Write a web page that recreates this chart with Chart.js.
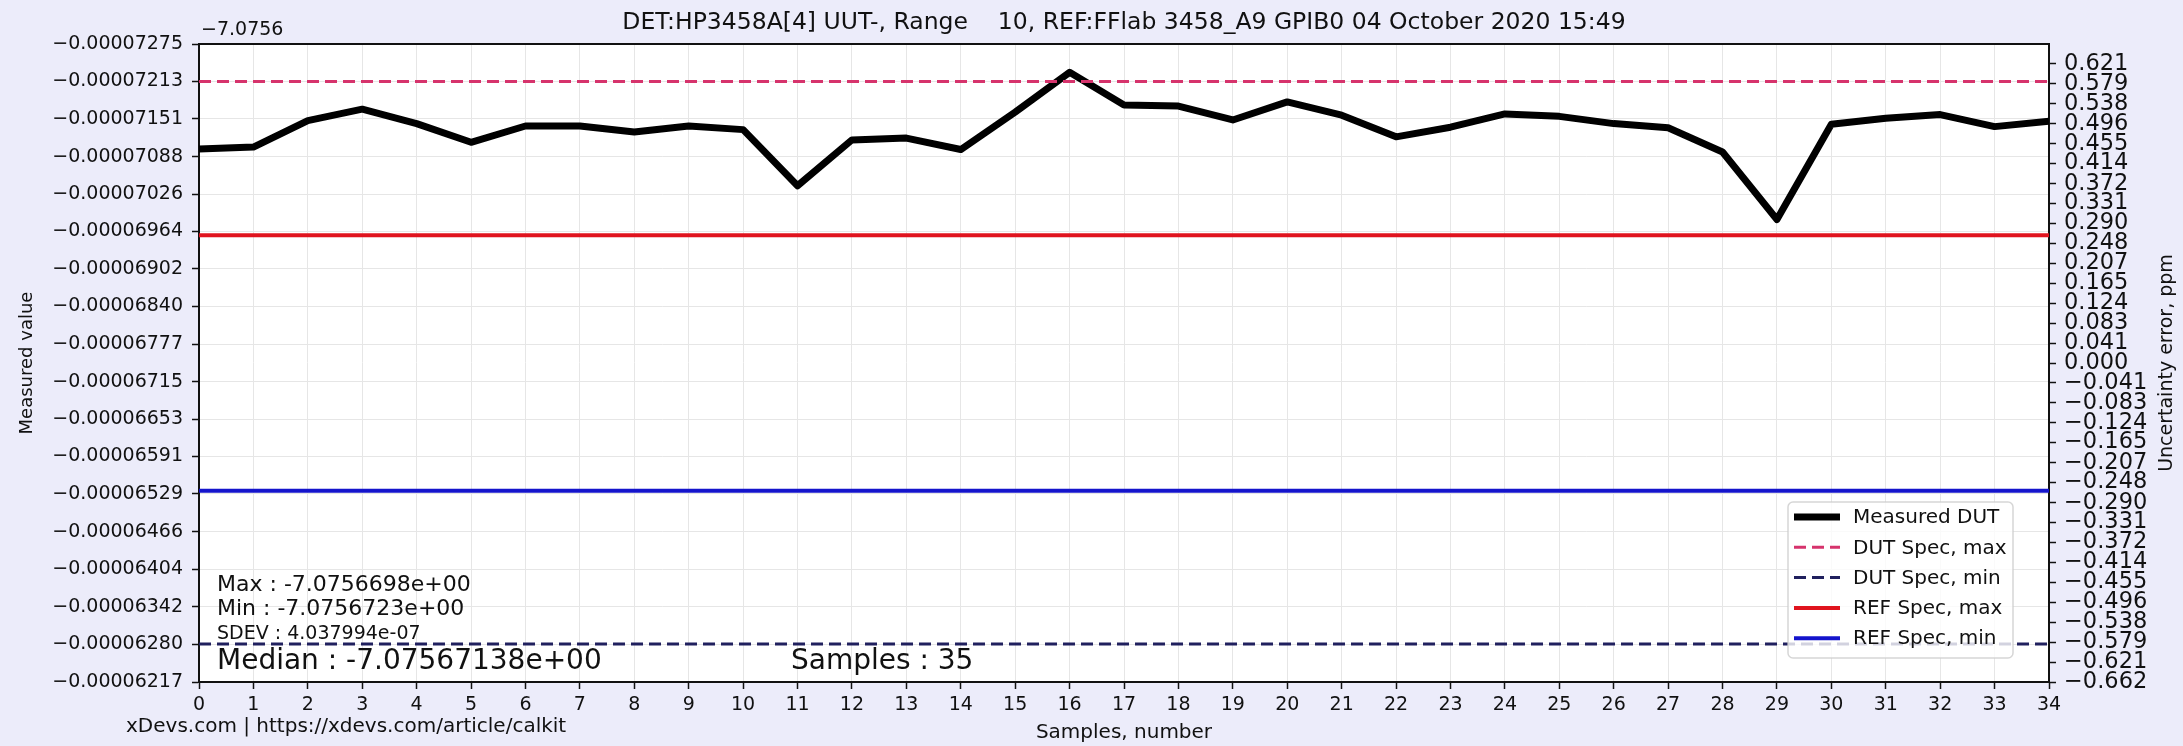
<!DOCTYPE html>
<html>
<head>
<meta charset="utf-8">
<script src="https://cdn.jsdelivr.net/npm/chart.js@4.4.1/dist/chart.umd.min.js"></script>
<style>
  html, body { margin: 0; padding: 0; background: #ececfa; }
  #wrap { width: 2183px; height: 746px; }
</style>
</head>
<body>
<div id="wrap"><canvas id="chart" width="2183" height="746"></canvas></div>
<script>
const samples = [0, 1, 2, 3, 4, 5, 6, 7, 8, 9, 10, 11, 12, 13, 14, 15, 16, 17,
  18, 19, 20, 21, 22, 23, 24, 25, 26, 27, 28, 29, 30, 31, 32, 33, 34];

// measured DUT, relative to offset -7.0756
const measured = [
  -0.00007101, -0.00007104, -0.00007148, -0.00007167, -0.00007143, -0.00007112, -0.00007139,
  -0.00007139, -0.00007129, -0.00007139, -0.00007133, -0.00007040, -0.00007116, -0.00007119,
  -0.00007100, -0.00007162, -0.00007228, -0.00007174, -0.00007172, -0.00007149, -0.00007179,
  -0.00007157, -0.00007121, -0.00007137, -0.00007159, -0.00007155, -0.00007143, -0.00007136,
  -0.00007096, -0.00006984, -0.00007142, -0.00007152, -0.00007158, -0.00007138, -0.00007147
];

const dutSpecMax = -0.00007213;
const dutSpecMin = -0.00006280;
const refSpecMax = -0.00006958;
const refSpecMin = -0.00006534;

const leftTickLabels = ['-0.00007275', '-0.00007213', '-0.00007151', '-0.00007088', '-0.00007026',
  '-0.00006964', '-0.00006902', '-0.00006840', '-0.00006777', '-0.00006715', '-0.00006653',
  '-0.00006591', '-0.00006529', '-0.00006466', '-0.00006404', '-0.00006342', '-0.00006280',
  '-0.00006217'];

const rightTickLabels = ['-0.662', '-0.621', '-0.579', '-0.538', '-0.496', '-0.455', '-0.414',
  '-0.372', '-0.331', '-0.290', '-0.248', '-0.207', '-0.165', '-0.124', '-0.083', '-0.041',
  '0.000', '0.041', '0.083', '0.124', '0.165', '0.207', '0.248', '0.290', '0.331', '0.372',
  '0.414', '0.455', '0.496', '0.538', '0.579', '0.621'];

const titleText = 'DET:HP3458A[4] UUT-, Range    10, REF:FFlab 3458_A9 GPIB0 04 October 2020 15:49';
const offsetText = '\u22127.0756';
const statsMax = 'Max : -7.0756698e+00';
const statsMin = 'Min : -7.0756723e+00';
const statsSdev = 'SDEV : 4.037994e-07';
const statsMedian = 'Median : -7.07567138e+00';
const statsSamples = 'Samples : 35';
const footerText = 'xDevs.com | https://xdevs.com/article/calkit';

const FONT = '"DejaVu Sans"';
const INK = '#111';
const minus = s => s.replace('-', '\u2212');
const flat = v => [{ x: samples[0], y: v }, { x: samples[samples.length - 1], y: v }];

Chart.defaults.font.family = FONT;
Chart.defaults.color = INK;

const frameAndTexts = {
  id: 'frameAndTexts',
  beforeDraw(chart) {
    const { ctx, chartArea: a } = chart;
    ctx.save();
    ctx.fillStyle = '#fff';
    ctx.fillRect(a.left, a.top, a.right - a.left, a.bottom - a.top);
    ctx.restore();
  },
  afterDatasetsDraw(chart) {
    const { ctx, chartArea: a } = chart;
    ctx.save();
    ctx.strokeStyle = INK;
    ctx.lineWidth = 2;
    ctx.beginPath();
    ctx.moveTo(a.left, a.top);
    ctx.lineTo(a.right, a.top);
    ctx.stroke();

    ctx.fillStyle = INK;
    ctx.textBaseline = 'middle';
    ctx.textAlign = 'left';
    ctx.font = '22px ' + FONT;
    ctx.fillText(statsMax, a.left + 18, 585);
    ctx.fillText(statsMin, a.left + 18, 609);
    ctx.font = '19px ' + FONT;
    ctx.fillText(statsSdev, a.left + 18, 634);
    ctx.font = '28px ' + FONT;
    ctx.fillText(statsMedian, a.left + 18, 662);
    ctx.fillText(statsSamples, 791, 662);
    ctx.restore();
  },
  afterDraw(chart) {
    const { ctx, chartArea: a } = chart;
    const cx = (a.left + a.right) / 2;
    const cy = (a.top + a.bottom) / 2;
    ctx.save();
    ctx.fillStyle = INK;
    ctx.textBaseline = 'middle';
    ctx.textAlign = 'center';
    ctx.font = '23.5px ' + FONT;
    ctx.fillText(titleText, cx, 23);

    ctx.textAlign = 'left';
    ctx.font = '19px ' + FONT;
    ctx.fillText(offsetText, a.left + 2, 30);

    ctx.font = '20px ' + FONT;
    ctx.fillText(footerText, 126, 727);
    ctx.textAlign = 'center';
    ctx.fillText('Samples, number', cx, 733);

    ctx.font = '18px ' + FONT;
    ctx.save();
    ctx.translate(27, cy);
    ctx.rotate(-Math.PI / 2);
    ctx.fillText('Measured value', 0, 0);
    ctx.restore();
    ctx.font = '19px ' + FONT;
    ctx.save();
    ctx.translate(2167, cy);
    ctx.rotate(-Math.PI / 2);
    ctx.fillText('Uncertainty error, ppm', 0, 0);
    ctx.restore();

    // legend
    const sets = chart.data.datasets;
    const bw = 225, bh = 156;
    const bx = a.right - 261, by = a.bottom - 180;
    ctx.globalAlpha = 0.8;
    ctx.fillStyle = '#fff';
    ctx.strokeStyle = '#cccccc';
    ctx.lineWidth = 1.5;
    ctx.beginPath();
    ctx.roundRect(bx, by, bw, bh, 5);
    ctx.fill();
    ctx.stroke();
    ctx.globalAlpha = 1;
    ctx.textAlign = 'left';
    ctx.font = '20px ' + FONT;
    sets.forEach((ds, i) => {
      const y = by + 15 + i * 30.3;
      ctx.strokeStyle = ds.borderColor;
      ctx.lineWidth = ds.borderWidth;
      ctx.setLineDash(ds.borderDash || []);
      ctx.beginPath();
      ctx.moveTo(bx + 6, y);
      ctx.lineTo(bx + 52, y);
      ctx.stroke();
      ctx.setLineDash([]);
      ctx.fillStyle = INK;
      ctx.fillText(ds.label, bx + 65, y + 1);
    });
    ctx.restore();
  }
};

new Chart(document.getElementById('chart'), {
  type: 'line',
  data: {
    datasets: [
      {
        label: 'Measured DUT',
        data: samples.map((s, i) => ({ x: s, y: measured[i] })),
        borderColor: '#000000',
        borderWidth: 7,
        borderJoinStyle: 'round',
        pointRadius: 0,
        order: 1
      },
      {
        label: 'DUT Spec, max',
        data: flat(dutSpecMax),
        borderColor: '#d6336c',
        borderWidth: 3,
        borderDash: [12, 6],
        pointRadius: 0,
        order: 0
      },
      {
        label: 'DUT Spec, min',
        data: flat(dutSpecMin),
        borderColor: '#20205e',
        borderWidth: 3,
        borderDash: [12, 6],
        pointRadius: 0,
        order: 0
      },
      {
        label: 'REF Spec, max',
        data: flat(refSpecMax),
        borderColor: '#e0141e',
        borderWidth: 4,
        pointRadius: 0,
        order: 0
      },
      {
        label: 'REF Spec, min',
        data: flat(refSpecMin),
        borderColor: '#1414cc',
        borderWidth: 4,
        pointRadius: 0,
        order: 0
      }
    ]
  },
  options: {
    responsive: false,
    animation: false,
    devicePixelRatio: 1,
    layout: { padding: { top: 44, left: 0, right: 0, bottom: 0 } },
    plugins: {
      legend: { display: false },
      tooltip: { enabled: false }
    },
    scales: {
      x: {
        type: 'linear',
        min: samples[0],
        max: samples[samples.length - 1],
        afterBuildTicks: s => { s.ticks = samples.map(v => ({ value: v })); },
        afterFit: s => { s.height = 64; },
        ticks: { font: { size: 19 }, color: INK, padding: 5, maxRotation: 0, autoSkip: false },
        grid: { color: '#e6e6e6', lineWidth: 1, tickLength: 7, tickColor: INK, tickWidth: 1.5 },
        border: { color: INK, width: 2 }
      },
      y: {
        type: 'linear',
        position: 'left',
        reverse: true,
        min: parseFloat(leftTickLabels[0]),
        max: parseFloat(leftTickLabels[leftTickLabels.length - 1]),
        afterBuildTicks: s => { s.ticks = leftTickLabels.map(t => ({ value: parseFloat(t) })); },
        afterFit: s => { s.width = 199; },
        ticks: { callback: (v, i) => minus(leftTickLabels[i]), font: { size: 19 }, color: INK, padding: 9, autoSkip: false },
        grid: { color: '#e6e6e6', lineWidth: 1, tickLength: 7, tickColor: INK, tickWidth: 1.5 },
        border: { color: INK, width: 2 }
      },
      y2: {
        type: 'linear',
        position: 'right',
        min: -0.662,
        max: 0.662,
        afterBuildTicks: s => { s.ticks = rightTickLabels.map(t => ({ value: parseFloat(t) })); },
        afterFit: s => { s.width = 134; },
        ticks: { callback: (v, i) => minus(rightTickLabels[i]), font: { size: 22.5 }, color: INK, padding: 8, autoSkip: false },
        grid: { drawOnChartArea: false, tickLength: 7, tickColor: INK, tickWidth: 1.5 },
        border: { color: INK, width: 2 }
      }
    }
  },
  plugins: [frameAndTexts]
});
</script>
</body>
</html>
